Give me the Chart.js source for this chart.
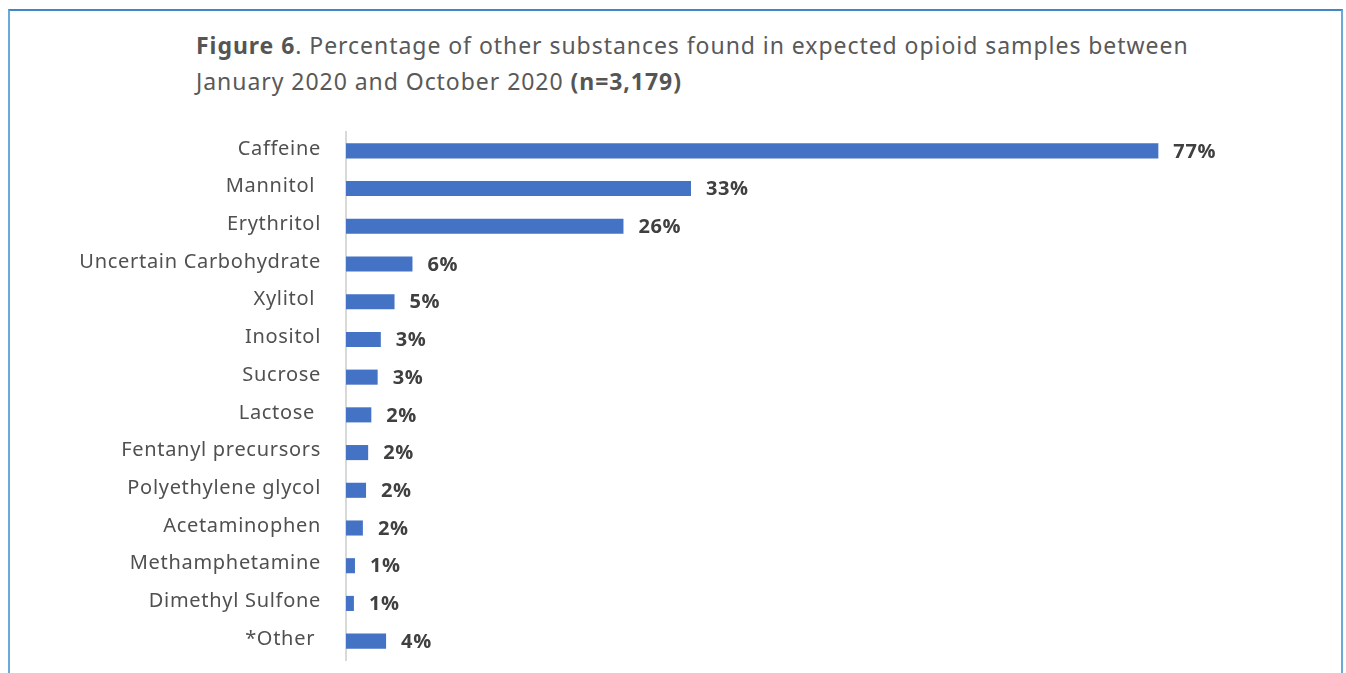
<!DOCTYPE html>
<html>
<head>
<meta charset="utf-8">
<script src="https://cdn.jsdelivr.net/npm/chart.js@4"></script>
<style>
  html, body { margin: 0; padding: 0; background: #fff; }
  body { width: 1346px; height: 673px; position: relative; overflow: hidden; }
  .frame {
    position: absolute; left: 8px; top: 9px; width: 1335px; height: 700px;
    border-left: 2px solid #6aaad8; border-top: 2px solid #3f88c5; border-right: 2px solid #6aaad8;
    box-sizing: border-box;
  }
  .title {
    position: absolute; left: 196px; top: 27px; width: 1100px;
    font-family: "Noto Sans", sans-serif; font-size: 23px; line-height: 36px; color: #595959;
    letter-spacing: 0.95px; white-space: nowrap;
  }
  .title b { color: #555; }
  #chart { position: absolute; left: 0; top: 0; }
</style>
</head>
<body>
<div class="frame"></div>
<div class="title"><b>Figure 6</b>. Percentage of other substances found in expected opioid samples between<br>January 2020 and October 2020 <b>(n=3,179)</b></div>
<canvas id="chart" width="1346" height="673"></canvas>
<script>
const substances = [
  'Caffeine', 'Mannitol ', 'Erythritol', 'Uncertain Carbohydrate', 'Xylitol ', 'Inositol', 'Sucrose',
  'Lactose ', 'Fentanyl precursors', 'Polyethylene glycol', 'Acetaminophen', 'Methamphetamine',
  'Dimethyl Sulfone', '*Other ',
];
const percentages = [77, 32.7, 26.3, 6.3, 4.6, 3.3, 3.0, 2.4, 2.1, 1.9, 1.6, 0.85, 0.75, 3.8];

// wider letter spacing for the category labels, closer to the original font
const labelSpacing = {
  id: 'labelSpacing',
  beforeDraw: (chart) => {
    chart.ctx.letterSpacing = '0.7px';
  },
  beforeDatasetsDraw: (chart) => {
    chart.ctx.letterSpacing = '0px';
  },
};

const valueLabels = {
  id: 'valueLabels',
  afterDatasetsDraw: (chart) => {
    const ctx = chart.ctx;
    ctx.save();
    ctx.letterSpacing = '0.6px';
    ctx.font = 'bold 20px "Open Sans", sans-serif';
    ctx.fillStyle = '#404040';
    ctx.textAlign = 'left';
    ctx.textBaseline = 'middle';
    chart.getDatasetMeta(0).data.forEach((bar, index) => {
      ctx.fillText(Math.round(percentages[index]) + '%', bar.x + 15, bar.y + 1);
    });
    ctx.restore();
  },
};

new Chart(document.querySelector('#chart'), {
  type: 'bar',
  data: {
    labels: substances,
    datasets: [
      {
        data: percentages,
        backgroundColor: '#4472c4',
        barPercentage: 0.4,
        categoryPercentage: 1,
      },
    ],
  },
  options: {
    indexAxis: 'y',
    responsive: false,
    animation: false,
    layout: {
      padding: { top: 132, bottom: 13, left: 0, right: 156 },
    },
    plugins: {
      legend: { display: false },
      tooltip: { enabled: false },
    },
    scales: {
      x: {
        display: false,
        min: 0,
        max: 80,
      },
      y: {
        afterFit: (scale) => {
          scale.width = 346;
          scale.paddingTop = 0;
          scale.paddingBottom = 0;
        },
        grid: { display: false, drawTicks: false },
        border: { display: true, color: '#d9d9d9', width: 2 },
        ticks: {
          padding: 25,
          labelOffset: -2,
          color: '#505050',
          font: { family: 'Noto Sans', size: 20 },
        },
      },
    },
  },
  plugins: [labelSpacing, valueLabels],
});
</script>
</body>
</html>
